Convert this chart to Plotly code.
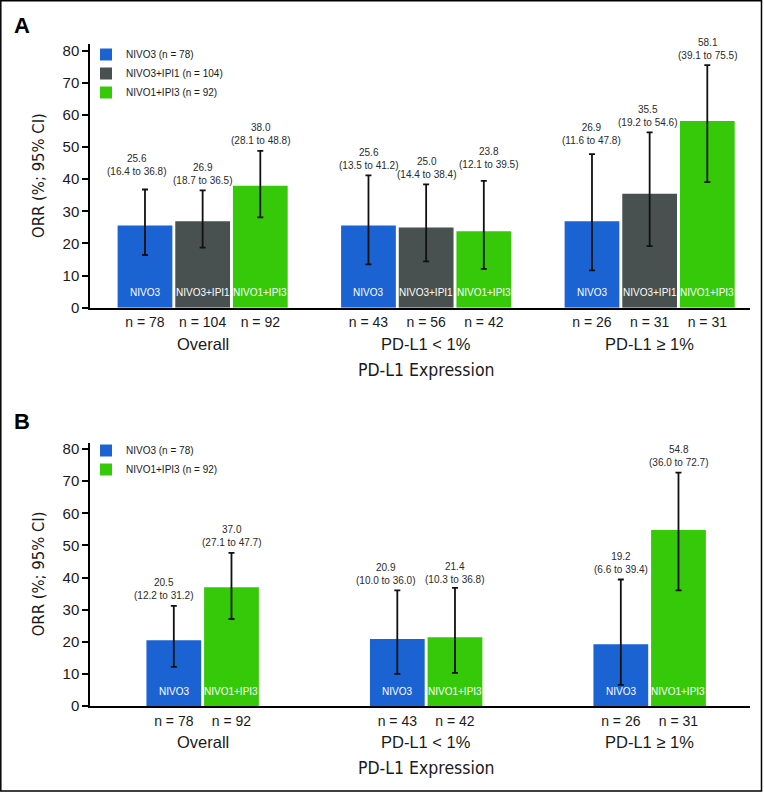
import plotly.graph_objects as go

# ---------------- data ----------------
groups = ["Overall", "PD-L1 < 1%", "PD-L1 ≥ 1%"]

# Panel A
a_series = ["NIVO3", "NIVO3+IPI1", "NIVO1+IPI3"]
a_legend_n = [78, 104, 92]
a_nivo3_orr = [25.6, 25.6, 26.9]
a_nivo3_lo = [16.4, 13.5, 11.6]
a_nivo3_hi = [36.8, 41.2, 47.8]
a_nivo3_n = [78, 43, 26]
a_nivo3ipi1_orr = [26.9, 25.0, 35.5]
a_nivo3ipi1_lo = [18.7, 14.4, 19.2]
a_nivo3ipi1_hi = [36.5, 38.4, 54.6]
a_nivo3ipi1_n = [104, 56, 31]
a_nivo1ipi3_orr = [38.0, 23.8, 58.1]
a_nivo1ipi3_lo = [28.1, 12.1, 39.1]
a_nivo1ipi3_hi = [48.8, 39.5, 75.5]
a_nivo1ipi3_n = [92, 42, 31]

# Panel B
b_series = ["NIVO3", "NIVO1+IPI3"]
b_legend_n = [78, 92]
b_nivo3_orr = [20.5, 20.9, 19.2]
b_nivo3_lo = [12.2, 10.0, 6.6]
b_nivo3_hi = [31.2, 36.0, 39.4]
b_nivo3_n = [78, 43, 26]
b_nivo1ipi3_orr = [37.0, 21.4, 54.8]
b_nivo1ipi3_lo = [27.1, 10.3, 36.0]
b_nivo1ipi3_hi = [47.7, 36.8, 72.7]
b_nivo1ipi3_n = [92, 42, 31]

y_ticks = [0, 10, 20, 30, 40, 50, 60, 70, 80]

# ---------------- style ----------------
BLUE = "#1b63d3"
GRAY = "#485150"
GREEN = "#35c90a"
SANS = "Liberation Sans, Arial, Helvetica, sans-serif"
NARROW = "Liberation Sans Narrow, DejaVu Sans Condensed, Arial Narrow, sans-serif"
TXT = "#1a1a1a"
SLOT = 0.258
BARW = 0.245
XRANGE = [-0.504, 2.449]
LABEL_BASE_SHIFT = 2.5
# label nudges (px) to avoid overlaps, per series per group
a_label_lift = [[8, 0, 4], [0, 0, 0], [0, 6, 0]]
a_label_nudge = [[-8, 0, 0], [0, 0, -2], [0, 5, 0]]
b_label_lift = [[0, 0, 0], [0, -2, 0]]
b_label_nudge = [[-10, -12, 0], [0, 0, 0]]

W, H = 764, 792
x_dom = [90 / W, 750 / W]
a_dom = [1 - 307.7 / H, 1 - 44.3 / H]
b_dom = [1 - 706 / H, 1 - 442.7 / H]

fig = go.Figure()
annotations = []


def add_panel(series, legend_n, orr, lo, hi, ns, colors, lifts, nudges, xa, ya, legend_name):
    nt = len(series)
    tickvals, ticktext = [], []
    for ti in range(nt):
        xs = [gi + (ti - (nt - 1) / 2) * SLOT for gi in range(len(groups))]
        fig.add_trace(go.Bar(
            x=xs, y=orr[ti], width=BARW,
            name=f"{series[ti]} (n = {legend_n[ti]})",
            marker=dict(color=colors[ti], line=dict(width=0)),
            error_y=dict(type="data", symmetric=False,
                         array=[h - v for h, v in zip(hi[ti], orr[ti])],
                         arrayminus=[v - l for v, l in zip(orr[ti], lo[ti])],
                         color="#111111", thickness=1.8, width=3),
            xaxis=xa, yaxis=ya, legend=legend_name,
        ))
        for gi, x in enumerate(xs):
            tickvals.append(x)
            ticktext.append(f"n = {ns[ti][gi]}")
            annotations.append(dict(
                x=x, y=hi[ti][gi], xref=xa, yref=ya, yanchor="bottom",
                yshift=LABEL_BASE_SHIFT + lifts[ti][gi], xshift=nudges[ti][gi],
                showarrow=False,
                text=f"{orr[ti][gi]:.1f}<br>({lo[ti][gi]:.1f} to {hi[ti][gi]:.1f})",
                font=dict(family=SANS, size=10, color="#2a2a2a")))
            annotations.append(dict(
                x=x, y=0, xref=xa, yref=ya, yanchor="middle", yshift=15,
                showarrow=False, text=series[ti],
                font=dict(family=SANS, size=10, color="white")))
    for gi, g in enumerate(groups):
        annotations.append(dict(
            x=gi, y=0, xref=xa, yref=f"{ya} domain", yanchor="middle", yshift=-36,
            showarrow=False, text=g, font=dict(family=SANS, size=16.5, color=TXT)))
    annotations.append(dict(
        x=1, y=0, xref=xa, yref=f"{ya} domain", yanchor="middle", yshift=-62,
        showarrow=False, text="PD-L1 Expression",
        font=dict(family=NARROW, size=17.5, color=TXT)))
    annotations.append(dict(
        x=38 / W, y=0.5, xref="paper", yref=f"{ya} domain", xanchor="center", yanchor="middle",
        textangle=-90, showarrow=False, text="ORR (%; 95% CI)",
        font=dict(family=NARROW, size=16.5, color=TXT)))
    return tickvals, ticktext


a_tv, a_tt = add_panel(a_series, a_legend_n,
                       [a_nivo3_orr, a_nivo3ipi1_orr, a_nivo1ipi3_orr],
                       [a_nivo3_lo, a_nivo3ipi1_lo, a_nivo1ipi3_lo],
                       [a_nivo3_hi, a_nivo3ipi1_hi, a_nivo1ipi3_hi],
                       [a_nivo3_n, a_nivo3ipi1_n, a_nivo1ipi3_n],
                       [BLUE, GRAY, GREEN], a_label_lift, a_label_nudge, "x", "y", "legend")
b_tv, b_tt = add_panel(b_series, b_legend_n,
                       [b_nivo3_orr, b_nivo1ipi3_orr],
                       [b_nivo3_lo, b_nivo1ipi3_lo],
                       [b_nivo3_hi, b_nivo1ipi3_hi],
                       [b_nivo3_n, b_nivo1ipi3_n],
                       [BLUE, GREEN], b_label_lift, b_label_nudge, "x2", "y2", "legend2")

annotations.append(dict(x=12 / W, y=1 - 25 / H, xref="paper", yref="paper", xanchor="left",
                        yanchor="middle", showarrow=False, text="<b>A</b>",
                        font=dict(family=SANS, size=22, color="black")))
annotations.append(dict(x=12 / W, y=1 - 421.5 / H, xref="paper", yref="paper", xanchor="left",
                        yanchor="middle", showarrow=False, text="<b>B</b>",
                        font=dict(family=SANS, size=22, color="black")))

xcommon = dict(range=XRANGE, showline=True, linecolor="black", linewidth=1.5,
               showgrid=False, zeroline=False, ticks="outside", ticklen=1,
               tickcolor="rgba(0,0,0,0)", tickfont=dict(family=SANS, size=14, color=TXT),
               domain=x_dom, fixedrange=True, automargin=False)
ycommon = dict(range=[0, 82], tickvals=y_ticks, showline=True, linecolor="black",
               linewidth=1.5, showgrid=False, zeroline=False, ticks="outside", ticklen=6,
               tickwidth=1.5, tickcolor="black",
               tickfont=dict(family=SANS, size=15, color=TXT), fixedrange=True,
               automargin=False)

legend_common = dict(font=dict(family=SANS, size=10, color=TXT), bgcolor="rgba(0,0,0,0)",
                     xanchor="left", yanchor="top", itemwidth=30, borderwidth=0,
                     tracegroupgap=0)

fig.update_layout(
    width=W, height=H, margin=dict(l=0, r=0, t=0, b=0, pad=0, autoexpand=False),
    paper_bgcolor="white", plot_bgcolor="white", barmode="overlay",
    showlegend=True,
    xaxis=dict(xcommon, anchor="y", tickvals=a_tv, ticktext=a_tt),
    yaxis=dict(ycommon, anchor="x", domain=a_dom),
    xaxis2=dict(xcommon, anchor="y2", tickvals=b_tv, ticktext=b_tt),
    yaxis2=dict(ycommon, anchor="x2", domain=b_dom),
    legend=dict(legend_common, x=86 / W, y=1 - 40 / H),
    legend2=dict(legend_common, x=86 / W, y=1 - 436 / H),
    annotations=annotations,
    shapes=[dict(type="rect", xref="paper", yref="paper", x0=0.8 / W, x1=761.5 / W,
                 y0=1 - 791 / H, y1=1 - 0.8 / H, line=dict(color="black", width=1.5))],
)

fig.write_html("out.html", config={"displayModeBar": False},
               post_script="document.body.style.margin='0';document.body.style.padding='0';")
